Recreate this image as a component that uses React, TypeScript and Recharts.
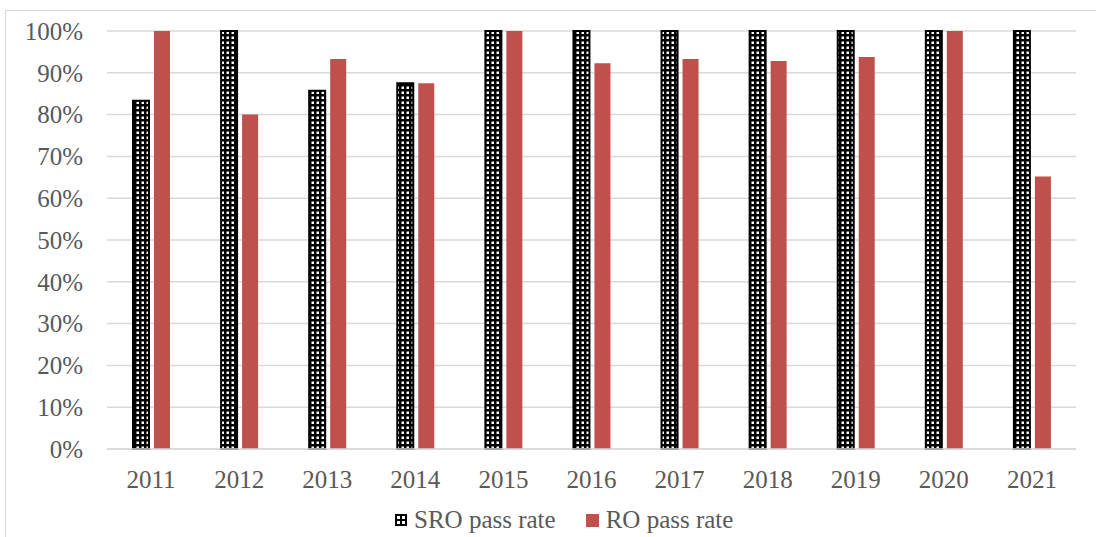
import { Bar, BarChart, CartesianGrid, Legend, XAxis, YAxis } from "recharts";

const years = ["2011", "2012", "2013", "2014", "2015", "2016", "2017", "2018", "2019", "2020", "2021"];
const sroPassRate = [83.3, 100, 85.7, 87.5, 100, 100, 100, 100, 100, 100, 100];
const roPassRate = [100, 80, 93.3, 87.5, 100, 92.3, 93.3, 92.8, 93.8, 100, 65.2];
const yTicks = [0, 10, 20, 30, 40, 50, 60, 70, 80, 90, 100];

const data = years.map((year, i) => ({
  year,
  sro: sroPassRate[i],
  ro: roPassRate[i],
}));

const FONT = '"Liberation Serif", "Times New Roman", serif';
const TEXT = "#595959";
const GRID = "#d9d9d9";
const RED = "#c0504d";

function LegendContent() {
  const item = { display: "flex", alignItems: "center", gap: 7 } as const;
  return (
    <div
      style={{
        display: "flex",
        alignItems: "center",
        gap: 30,
        fontFamily: FONT,
        fontSize: 25,
        color: TEXT,
        whiteSpace: "nowrap",
      }}
    >
      <div style={item}>
        <svg width={12} height={12}>
          <rect width={12} height={12} fill="#000" />
          <rect x={2} y={2} width={3} height={3} fill="#fff" />
          <rect x={7} y={2} width={3} height={3} fill="#fff" />
          <rect x={2} y={7} width={3} height={3} fill="#fff" />
          <rect x={7} y={7} width={3} height={3} fill="#fff" />
        </svg>
        <span>SRO pass rate</span>
      </div>
      <div style={item}>
        <svg width={13} height={13}>
          <rect width={13} height={13} fill={RED} />
        </svg>
        <span>RO pass rate</span>
      </div>
    </div>
  );
}

export default function App() {
  return (
    <div style={{ position: "absolute", left: 0, top: 0, width: 1096, height: 537, background: "#fff", overflow: "hidden" }}>
      <div
        style={{
          position: "absolute",
          left: 5,
          top: 10,
          width: 1110,
          height: 540,
          border: `1px solid ${GRID}`,
          boxSizing: "border-box",
        }}
      />
      <BarChart
        width={1096}
        height={537}
        data={data}
        barSize={16}
        barGap={5}
        margin={{ top: 31, right: 20, left: 0, bottom: 48 }}
        style={{ position: "absolute", left: 0, top: 0 }}
      >
        <defs>
          {/* black fill with a grid of small white squares */}
          <pattern id="checker" width={5} height={5} patternUnits="userSpaceOnUse">
            <rect width={5} height={5} fill="#000" />
            <rect x={1.5} y={1.5} width={2.5} height={2.5} fill="#fff" />
          </pattern>
        </defs>
        <CartesianGrid vertical={false} stroke={GRID} strokeWidth={1.5} />
        <XAxis
          dataKey="year"
          height={40}
          axisLine={{ stroke: GRID, strokeWidth: 1.5 }}
          tickLine={false}
          tickSize={0}
          tickMargin={21}
          tick={{ fill: TEXT, fontSize: 25, fontFamily: FONT }}
        />
        <YAxis
          width={107}
          domain={[0, 100]}
          ticks={yTicks}
          interval={0}
          axisLine={false}
          tickLine={false}
          tickSize={0}
          tickMargin={24}
          tickFormatter={(v: number) => `${v}%`}
          tick={{ fill: TEXT, fontSize: 25, fontFamily: FONT }}
        />
        <Legend
          verticalAlign="middle"
          content={<LegendContent />}
          wrapperStyle={{ position: "absolute", top: 506, left: 395, width: "auto", height: 30 }}
        />
        <Bar dataKey="sro" name="SRO pass rate" fill="url(#checker)" stroke="#000" strokeWidth={2} isAnimationActive={false} />
        <Bar dataKey="ro" name="RO pass rate" fill={RED} isAnimationActive={false} />
      </BarChart>
    </div>
  );
}
